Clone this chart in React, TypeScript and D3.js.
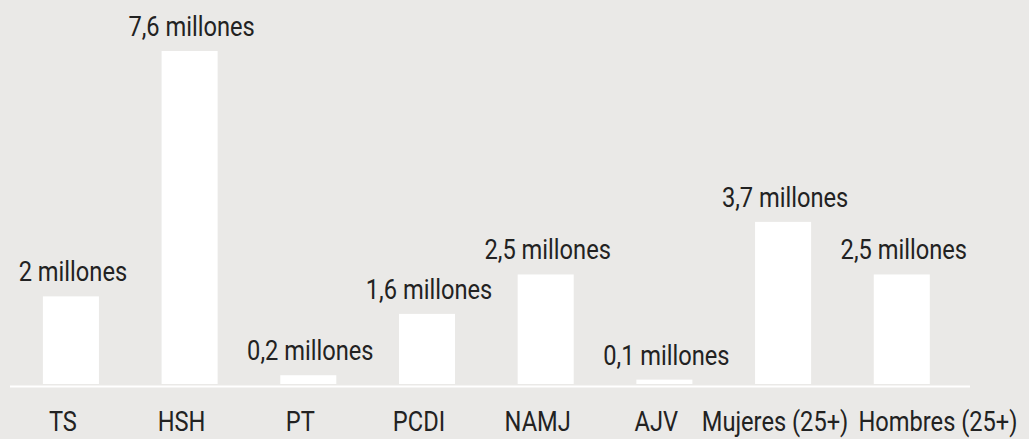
import React, { useEffect, useRef } from "react";
import * as d3 from "d3";

// chart values (millions of people)
const categories = ["TS", "HSH", "PT", "PCDI", "NAMJ", "AJV", "Mujeres (25+)", "Hombres (25+)"];
const values = [2, 7.6, 0.2, 1.6, 2.5, 0.1, 3.7, 2.5];
const valueLabels = [
  "2 millones",
  "7,6 millones",
  "0,2 millones",
  "1,6 millones",
  "2,5 millones",
  "0,1 millones",
  "3,7 millones",
  "2,5 millones",
];

const App = () => {
  const ref = useRef<SVGSVGElement>(null);

  useEffect(() => {
    const width = 1029;
    const height = 439;
    const font = "'Roboto', sans-serif";
    const squeeze = 0.845; // condensed look

    const svg = d3.select(ref.current).attr("width", width).attr("height", height);
    svg.selectAll("*").remove();

    svg.append("rect").attr("width", width).attr("height", height).attr("fill", "#eae9e7");

    const x = d3
      .scaleBand()
      .domain(categories)
      .range([10, 970])
      .paddingInner(0.528)
      .paddingOuter(0.308)
      .align(0.45);

    const y = d3.scaleLinear().domain([0, 7.6]).range([384, 51]);

    const data = categories.map((c, i) => ({ cat: c, value: values[i], label: valueLabels[i] }));

    // bars
    svg
      .selectAll(".bar")
      .data(data)
      .enter()
      .append("rect")
      .attr("class", "bar")
      .attr("x", (d) => x(d.cat)!)
      .attr("width", x.bandwidth())
      .attr("y", (d) => y(d.value))
      .attr("height", (d) => y(0) - y(d.value))
      .attr("fill", "#ffffff");

    // baseline
    svg
      .append("line")
      .attr("x1", 10)
      .attr("x2", 970)
      .attr("y1", y(0) + 2.5)
      .attr("y2", y(0) + 2.5)
      .attr("stroke", "#ffffff")
      .attr("stroke-width", 2);

    // value labels (horizontally squeezed to look condensed)
    svg
      .selectAll(".val")
      .data(data)
      .enter()
      .append("text")
      .attr("class", "val")
      .attr("transform", (d) =>
        `translate(${x(d.cat)! + x.bandwidth() / 2 + 2},${y(d.value) - 15}) scale(${squeeze},1)`)
      .attr("text-anchor", "middle")
      .attr("fill", "#222")
      .style("font-family", font)
      .style("font-size", "28px")
      .text((d) => d.label);

    // category labels, nudged right when they would overlap
    const cats = svg
      .selectAll<SVGTextElement, any>(".cat")
      .data(data)
      .enter()
      .append("text")
      .attr("class", "cat")
      .attr("fill", "#222")
      .style("font-family", font)
      .style("font-size", "28px")
      .text((d) => d.cat);

    let prevEnd = -Infinity;
    cats.each(function (d) {
      const w = this.getComputedTextLength() * squeeze;
      let start = x(d.cat)! + x.bandwidth() / 2 - 8 - w / 2;
      if (start < prevEnd + 10) start = prevEnd + 10;
      d3.select(this).attr("transform", `translate(${start},431) scale(${squeeze},1)`);
      prevEnd = start + w;
    });
  }, []);

  return (
    <svg ref={ref} style={{ position: "absolute", left: 0, top: 0, display: "block" }}></svg>
  );
};

export default App;
